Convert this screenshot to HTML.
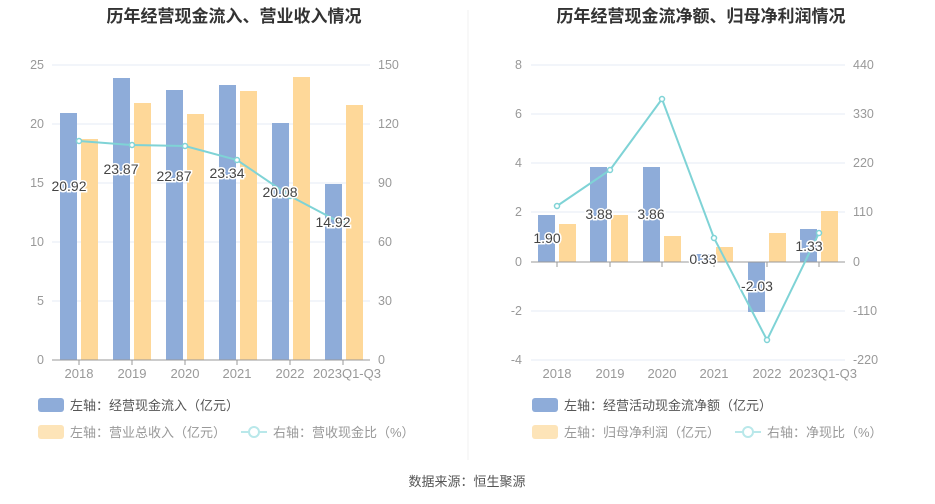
<!DOCTYPE html>
<html><head><meta charset="utf-8"><style>
body{margin:0;background:#fff;}
svg{display:block;font-family:"Liberation Sans","Noto Sans CJK SC",sans-serif;}
</style></head><body>
<svg width="935" height="504" viewBox="0 0 935 504">
<rect width="935" height="504" fill="#fff"/>
<line x1="468" y1="10" x2="468" y2="460" stroke="#f0f0f0"/>
<text x="234" y="22" text-anchor="middle" font-size="17" font-weight="bold" fill="#333">历年经营现金流入、营业收入情况</text>
<text x="701" y="22" text-anchor="middle" font-size="17" font-weight="bold" fill="#333">历年经营现金流净额、归母净利润情况</text>
<!-- LEFT -->
<g font-size="12.5" fill="#999">
<g stroke="#e6ebf5"><line x1="52" y1="65" x2="370" y2="65"/><line x1="52" y1="124" x2="370" y2="124"/><line x1="52" y1="183" x2="370" y2="183"/><line x1="52" y1="242" x2="370" y2="242"/><line x1="52" y1="301" x2="370" y2="301"/></g>
<g text-anchor="end"><text x="44" y="69">25</text><text x="44" y="128">20</text><text x="44" y="187">15</text><text x="44" y="246">10</text><text x="44" y="305">5</text><text x="44" y="364">0</text></g>
<g><text x="378" y="69">150</text><text x="378" y="128">120</text><text x="378" y="187">90</text><text x="378" y="246">60</text><text x="378" y="305">30</text><text x="378" y="364">0</text></g>
<g fill="#8eacd9"><rect x="60" y="113" width="17" height="247"/><rect x="113" y="78" width="17" height="282"/><rect x="166" y="90" width="17" height="270"/><rect x="219" y="85" width="17" height="275"/><rect x="272" y="123" width="17" height="237"/><rect x="325" y="184" width="17" height="176"/></g>
<g fill="#fed899"><rect x="81" y="139" width="17" height="221"/><rect x="134" y="103" width="17" height="257"/><rect x="187" y="114" width="17" height="246"/><rect x="240" y="91" width="17" height="269"/><rect x="293" y="77" width="17" height="283"/><rect x="346" y="105" width="17" height="255"/></g>
<line x1="52" y1="360" x2="370" y2="360" stroke="#999"/>
<g stroke="#999"><line x1="79" y1="360" x2="79" y2="365"/><line x1="132" y1="360" x2="132" y2="365"/><line x1="185" y1="360" x2="185" y2="365"/><line x1="237" y1="360" x2="237" y2="365"/><line x1="290" y1="360" x2="290" y2="365"/><line x1="343" y1="360" x2="343" y2="365"/></g>
<g text-anchor="middle" font-size="13"><text x="79" y="378">2018</text><text x="132" y="378">2019</text><text x="185" y="378">2020</text><text x="237" y="378">2021</text><text x="290" y="378">2022</text><text x="347" y="378">2023Q1-Q3</text></g>
<polyline points="79,141 132,145 185,146 237,160 290,196 343,224" fill="none" stroke="#7fd3d6" stroke-width="2"/>
<g fill="#fff" stroke="#7fd3d6" stroke-width="1.5"><circle cx="79" cy="141" r="2.5"/><circle cx="132" cy="145" r="2.5"/><circle cx="185" cy="146" r="2.5"/><circle cx="237" cy="160" r="2.5"/><circle cx="290" cy="196" r="2.5"/><circle cx="343" cy="224" r="2.5"/></g>
<g text-anchor="middle" font-size="14" fill="#444" stroke="#fff" stroke-width="3" paint-order="stroke"><text x="69" y="191">20.92</text><text x="121" y="174">23.87</text><text x="174" y="181">22.87</text><text x="227" y="178">23.34</text><text x="280" y="197">20.08</text><text x="333" y="227">14.92</text></g>
<rect x="38" y="398" width="26" height="14" rx="3" fill="#8eacd9"/><text x="70" y="410" font-size="13" fill="#555">左轴：经营现金流入（亿元）</text>
<rect x="38" y="425" width="26" height="14" rx="3" fill="#fde4b8"/><text x="70" y="437" font-size="13" fill="#999">左轴：营业总收入（亿元）</text>
<line x1="241" y1="432" x2="267" y2="432" stroke="#b9e8ea" stroke-width="2"/><circle cx="254" cy="432" r="5" fill="#fff" stroke="#b9e8ea" stroke-width="2"/><text x="273" y="437" font-size="13" fill="#999">右轴：营收现金比（%）</text>
</g>
<!-- RIGHT -->
<g font-size="12.5" fill="#999">
<g stroke="#e6ebf5"><line x1="531" y1="65" x2="845" y2="65"/><line x1="531" y1="114" x2="845" y2="114"/><line x1="531" y1="163" x2="845" y2="163"/><line x1="531" y1="212" x2="845" y2="212"/><line x1="531" y1="311" x2="845" y2="311"/><line x1="531" y1="360" x2="845" y2="360"/></g>
<g text-anchor="end"><text x="522" y="69">8</text><text x="522" y="118">6</text><text x="522" y="167">4</text><text x="522" y="216">2</text><text x="522" y="266">0</text><text x="522" y="315">-2</text><text x="522" y="364">-4</text></g>
<g><text x="853" y="69">440</text><text x="853" y="118">330</text><text x="853" y="167">220</text><text x="853" y="216">110</text><text x="853" y="266">0</text><text x="853" y="315">-110</text><text x="853" y="364">-220</text></g>
<g fill="#8eacd9"><rect x="538" y="215" width="17" height="47"/><rect x="590" y="167" width="17" height="95"/><rect x="643" y="167" width="17" height="95"/><rect x="695" y="254" width="17" height="8"/><rect x="748" y="262" width="17" height="50"/><rect x="800" y="229" width="17" height="33"/></g>
<g fill="#fed899"><rect x="559" y="224" width="17" height="38"/><rect x="611" y="215" width="17" height="47"/><rect x="664" y="236" width="17" height="26"/><rect x="716" y="247" width="17" height="15"/><rect x="769" y="233" width="17" height="29"/><rect x="821" y="211" width="17" height="51"/></g>
<line x1="531" y1="262" x2="845" y2="262" stroke="#999"/>
<g stroke="#999"><line x1="557" y1="262" x2="557" y2="267"/><line x1="610" y1="262" x2="610" y2="267"/><line x1="662" y1="262" x2="662" y2="267"/><line x1="714" y1="262" x2="714" y2="267"/><line x1="767" y1="262" x2="767" y2="267"/><line x1="819" y1="262" x2="819" y2="267"/></g>
<g text-anchor="middle" font-size="13"><text x="557" y="378">2018</text><text x="610" y="378">2019</text><text x="662" y="378">2020</text><text x="714" y="378">2021</text><text x="767" y="378">2022</text><text x="823" y="378">2023Q1-Q3</text></g>
<polyline points="557,206 610,170 662,99 714,238 767,340 819,233" fill="none" stroke="#7fd3d6" stroke-width="2"/>
<g fill="#fff" stroke="#7fd3d6" stroke-width="1.5"><circle cx="557" cy="206" r="2.5"/><circle cx="610" cy="170" r="2.5"/><circle cx="662" cy="99" r="2.5"/><circle cx="714" cy="238" r="2.5"/><circle cx="767" cy="340" r="2.5"/><circle cx="819" cy="233" r="2.5"/></g>
<g text-anchor="middle" font-size="14" fill="#444" stroke="#fff" stroke-width="3" paint-order="stroke"><text x="547" y="243">1.90</text><text x="599" y="219">3.88</text><text x="651" y="219">3.86</text><text x="703" y="264">0.33</text><text x="757" y="291">-2.03</text><text x="809" y="251">1.33</text></g>
<rect x="532" y="398" width="26" height="14" rx="3" fill="#8eacd9"/><text x="564" y="410" font-size="13" fill="#555">左轴：经营活动现金流净额（亿元）</text>
<rect x="532" y="425" width="26" height="14" rx="3" fill="#fde4b8"/><text x="564" y="437" font-size="13" fill="#999">左轴：归母净利润（亿元）</text>
<line x1="735" y1="432" x2="761" y2="432" stroke="#b9e8ea" stroke-width="2"/><circle cx="748" cy="432" r="5" fill="#fff" stroke="#b9e8ea" stroke-width="2"/><text x="767" y="437" font-size="13" fill="#999">右轴：净现比（%）</text>
</g>
<text x="467" y="486" text-anchor="middle" font-size="13" fill="#555">数据来源：恒生聚源</text>
</svg>
</body></html>
